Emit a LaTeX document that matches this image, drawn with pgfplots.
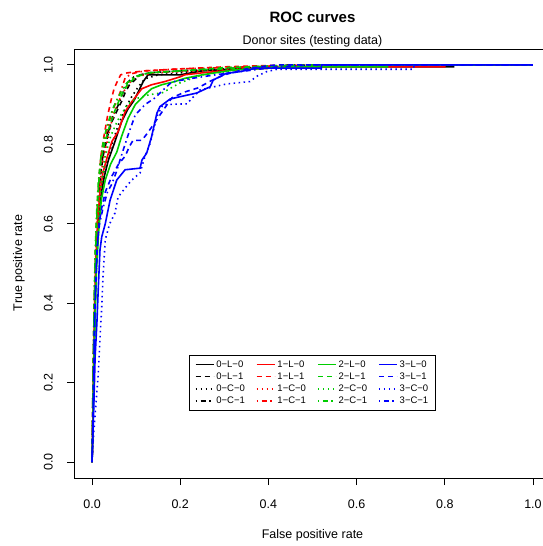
\documentclass[border=0pt]{standalone}
\usepackage{fontspec}
\setmainfont{Liberation Sans}
\usepackage{pgfplots}
\pgfplotsset{compat=1.18}
\definecolor{rgreen}{HTML}{00CD00}
\definecolor{rblue}{HTML}{0000FF}
\definecolor{rred}{HTML}{FF0000}
\tikzset{
 lsolid/.style={solid, line width=1.6pt},
 ldash/.style={dash pattern=on 5pt off 4pt, line width=1.6pt},
 ldot/.style={dash pattern=on 1.5pt off 3.5pt, line width=1.6pt},
 ldashdot/.style={dash pattern=on 1.5pt off 3.5pt on 5pt off 3.5pt, line width=1.6pt},
}
\begin{document}
\begin{tikzpicture}[x=1pt,y=1pt]
\path[use as bounding box] (0,0) rectangle (543,546);
\begin{axis}[
 at={(74.4pt,68pt)}, anchor=south west,
 width=476.2pt, height=429pt, scale only axis,
 xmin=-0.04, xmax=1.04, ymin=-0.04, ymax=1.04,
 xtick={0,0.2,0.4,0.6,0.8,1}, ytick={0,0.2,0.4,0.6,0.8,1},
 xticklabels={0.0,0.2,0.4,0.6,0.8,1.0}, yticklabels={0.0,0.2,0.4,0.6,0.8,1.0},
 xtick pos=bottom, ytick pos=left, tick align=outside, major tick length=7pt,
 tick style={black, line width=0.8pt},
 axis line style={line width=0.9pt},
 ticklabel style={font=\fontsize{12.5}{14}\selectfont},
 yticklabel style={rotate=90, anchor=south},
 xticklabel style={anchor=north},
 xticklabel shift=11pt, yticklabel shift=11pt,
 legend columns=4,
 legend cell align=left,
 legend image code/.code={\draw[#1] (0pt,0pt) -- (18pt,0pt);},
 legend style={at={(axis cs:0.5,0.2)}, anchor=center, font=\fontsize{9.5}{11}\selectfont,
   draw=black, line width=0.8pt, inner xsep=5pt, inner ysep=3pt, row sep=0pt,
   /tikz/every even column/.append style={column sep=9pt}},
]
% ---------- black ----------
\addplot[black, lsolid, forget plot] coordinates {(0,0)(0.002,0.1)(0.004,0.25)(0.007,0.4)(0.01,0.52)(0.014,0.6)(0.02,0.67)(0.028,0.72)(0.037,0.76)(0.052,0.807)(0.067,0.857)(0.082,0.89)(0.095,0.91)(0.104,0.93)(0.116,0.958)(0.127,0.975)(0.2,0.975)(0.25,0.985)(0.35,0.99)(0.5,0.995)(0.82,0.995)(0.82,1)(1,1)};
\addplot[black, ldash, forget plot] coordinates {(0,0)(0.002,0.12)(0.004,0.28)(0.006,0.42)(0.009,0.53)(0.013,0.63)(0.018,0.71)(0.025,0.77)(0.035,0.82)(0.045,0.857)(0.059,0.89)(0.068,0.91)(0.075,0.93)(0.085,0.95)(0.093,0.958)(0.109,0.975)(0.13,0.98)(0.2,0.985)(0.3,0.99)(0.4,0.995)(0.5,1)(1,1)};
\addplot[black, ldot, forget plot] coordinates {(0,0)(0.002,0.1)(0.004,0.25)(0.007,0.42)(0.01,0.54)(0.014,0.62)(0.02,0.69)(0.03,0.75)(0.045,0.8)(0.06,0.85)(0.075,0.89)(0.09,0.92)(0.105,0.945)(0.12,0.965)(0.15,0.975)(0.25,0.985)(0.35,0.99)(0.5,0.995)(0.6,1)(1,1)};
\addplot[black, ldashdot, forget plot] coordinates {(0,0)(0.002,0.12)(0.004,0.3)(0.006,0.44)(0.009,0.55)(0.013,0.64)(0.018,0.72)(0.026,0.78)(0.036,0.83)(0.047,0.87)(0.06,0.9)(0.07,0.93)(0.08,0.955)(0.095,0.97)(0.13,0.98)(0.2,0.985)(0.3,0.99)(0.45,1)(1,1)};
% ---------- red ----------
\addplot[rred, lsolid, forget plot] coordinates {(0,0)(0.002,0.1)(0.004,0.26)(0.006,0.4)(0.009,0.52)(0.013,0.61)(0.018,0.68)(0.025,0.73)(0.035,0.77)(0.045,0.807)(0.059,0.832)(0.075,0.882)(0.09,0.907)(0.113,0.94)(0.135,0.95)(0.165,0.958)(0.2,0.97)(0.21,0.975)(0.25,0.98)(0.35,0.99)(0.5,0.995)(0.8,0.995)(0.8,1)(1,1)};
\addplot[rred, ldash, forget plot] coordinates {(0,0)(0.001,0.1)(0.003,0.27)(0.005,0.4)(0.008,0.52)(0.011,0.62)(0.015,0.7)(0.02,0.77)(0.027,0.82)(0.035,0.87)(0.043,0.91)(0.05,0.94)(0.058,0.96)(0.065,0.975)(0.08,0.98)(0.12,0.985)(0.2,0.99)(0.3,0.995)(0.45,1)(1,1)};
\addplot[rred, ldot, forget plot] coordinates {(0,0)(0.002,0.12)(0.004,0.28)(0.006,0.42)(0.009,0.54)(0.013,0.63)(0.018,0.7)(0.025,0.76)(0.033,0.8)(0.045,0.86)(0.057,0.9)(0.07,0.93)(0.085,0.955)(0.1,0.97)(0.14,0.98)(0.25,0.985)(0.4,0.995)(0.55,1)(1,1)};
\addplot[rred, ldashdot, forget plot] coordinates {(0,0)(0.001,0.1)(0.003,0.25)(0.005,0.38)(0.007,0.5)(0.01,0.6)(0.014,0.68)(0.018,0.74)(0.022,0.78)(0.03,0.82)(0.037,0.85)(0.045,0.88)(0.052,0.9)(0.06,0.92)(0.067,0.94)(0.075,0.967)(0.09,0.978)(0.12,0.985)(0.2,0.99)(0.3,0.993)(0.4,0.997)(0.5,1)(1,1)};
% ---------- green ----------
\addplot[rgreen, lsolid, forget plot] coordinates {(0,0)(0.002,0.08)(0.004,0.22)(0.007,0.36)(0.01,0.48)(0.015,0.58)(0.021,0.66)(0.03,0.71)(0.042,0.75)(0.056,0.78)(0.067,0.82)(0.082,0.866)(0.098,0.9)(0.12,0.925)(0.135,0.94)(0.158,0.95)(0.188,0.958)(0.21,0.966)(0.25,0.975)(0.32,0.987)(0.45,0.995)(0.67,0.995)(0.67,1)(1,1)};
\addplot[rgreen, ldash, forget plot] coordinates {(0,0)(0.001,0.1)(0.003,0.26)(0.005,0.4)(0.008,0.52)(0.011,0.62)(0.015,0.7)(0.02,0.76)(0.028,0.8)(0.038,0.84)(0.05,0.88)(0.065,0.92)(0.08,0.95)(0.1,0.97)(0.13,0.98)(0.2,0.985)(0.3,0.993)(0.4,0.997)(0.5,1)(1,1)};
\addplot[rgreen, ldot, forget plot] coordinates {(0,0)(0.002,0.1)(0.004,0.25)(0.007,0.4)(0.01,0.52)(0.015,0.62)(0.021,0.7)(0.03,0.77)(0.042,0.82)(0.058,0.86)(0.08,0.9)(0.1,0.915)(0.13,0.925)(0.16,0.93)(0.2,0.955)(0.25,0.975)(0.35,0.99)(0.5,0.995)(0.6,1)(1,1)};
\addplot[rgreen, ldashdot, forget plot] coordinates {(0,0)(0.001,0.1)(0.003,0.27)(0.005,0.42)(0.007,0.53)(0.01,0.62)(0.014,0.7)(0.019,0.76)(0.026,0.81)(0.035,0.85)(0.047,0.89)(0.06,0.92)(0.075,0.95)(0.095,0.97)(0.13,0.98)(0.2,0.985)(0.3,0.99)(0.4,0.997)(0.5,1)(1,1)};
% ---------- blue ----------
\addplot[rblue, lsolid, forget plot] coordinates {(0,0)(0.002,0.07)(0.004,0.14)(0.007,0.265)(0.011,0.35)(0.014,0.433)(0.018,0.534)(0.022,0.567)(0.03,0.6)(0.041,0.66)(0.056,0.71)(0.075,0.736)(0.109,0.74)(0.113,0.76)(0.124,0.778)(0.135,0.819)(0.147,0.878)(0.154,0.895)(0.177,0.914)(0.2,0.92)(0.237,0.929)(0.268,0.945)(0.275,0.962)(0.305,0.979)(0.336,0.983)(0.373,0.992)(0.52,0.992)(0.52,1)(1,1)};
\addplot[rblue, ldash, forget plot] coordinates {(0,0)(0.002,0.1)(0.004,0.24)(0.006,0.36)(0.009,0.46)(0.012,0.54)(0.016,0.6)(0.022,0.64)(0.03,0.68)(0.045,0.72)(0.06,0.75)(0.075,0.77)(0.085,0.795)(0.093,0.81)(0.113,0.81)(0.127,0.83)(0.143,0.856)(0.159,0.882)(0.181,0.917)(0.211,0.932)(0.24,0.942)(0.27,0.96)(0.3,0.975)(0.35,0.99)(0.4,0.998)(0.42,1)(1,1)};
\addplot[rblue, ldot, forget plot] coordinates {(0,0)(0.003,0.06)(0.007,0.12)(0.014,0.22)(0.018,0.31)(0.022,0.39)(0.025,0.47)(0.03,0.56)(0.04,0.6)(0.052,0.627)(0.059,0.667)(0.075,0.69)(0.09,0.71)(0.109,0.728)(0.12,0.77)(0.132,0.803)(0.147,0.87)(0.161,0.9)(0.215,0.902)(0.245,0.937)(0.305,0.952)(0.358,0.958)(0.373,0.971)(0.396,0.983)(0.42,0.989)(0.73,0.989)(0.73,1)(1,1)};
\addplot[rblue, ldashdot, forget plot] coordinates {(0,0)(0.002,0.1)(0.004,0.25)(0.006,0.38)(0.009,0.48)(0.012,0.55)(0.017,0.6)(0.025,0.64)(0.035,0.68)(0.045,0.7)(0.055,0.73)(0.067,0.773)(0.082,0.824)(0.098,0.874)(0.12,0.9)(0.143,0.917)(0.166,0.942)(0.181,0.957)(0.22,0.965)(0.28,0.975)(0.35,0.985)(0.42,0.995)(0.5,1)(1,1)};
% ---------- legend (row-wise) ----------
\addlegendimage{black, lsolid}\addlegendentry{0−L−0}
\addlegendimage{rred, lsolid}\addlegendentry{1−L−0}
\addlegendimage{rgreen, lsolid}\addlegendentry{2−L−0}
\addlegendimage{rblue, lsolid}\addlegendentry{3−L−0}
\addlegendimage{black, ldash}\addlegendentry{0−L−1}
\addlegendimage{rred, ldash}\addlegendentry{1−L−1}
\addlegendimage{rgreen, ldash}\addlegendentry{2−L−1}
\addlegendimage{rblue, ldash}\addlegendentry{3−L−1}
\addlegendimage{black, ldot}\addlegendentry{0−C−0}
\addlegendimage{rred, ldot}\addlegendentry{1−C−0}
\addlegendimage{rgreen, ldot}\addlegendentry{2−C−0}
\addlegendimage{rblue, ldot}\addlegendentry{3−C−0}
\addlegendimage{black, ldashdot}\addlegendentry{0−C−1}
\addlegendimage{rred, ldashdot}\addlegendentry{1−C−1}
\addlegendimage{rgreen, ldashdot}\addlegendentry{2−C−1}
\addlegendimage{rblue, ldashdot}\addlegendentry{3−C−1}
\end{axis}
\node[font=\bfseries\fontsize{15}{18}\selectfont] at (312.5,529) {ROC curves};
\node[font=\fontsize{12.5}{15}\selectfont] at (312.5,505) {Donor sites (testing data)};
\node[font=\fontsize{12.5}{15}\selectfont] at (312.5,11) {False positive rate};
\node[font=\fontsize{12.5}{15}\selectfont, rotate=90] at (19,283) {True positive rate};
\end{tikzpicture}
\end{document}
